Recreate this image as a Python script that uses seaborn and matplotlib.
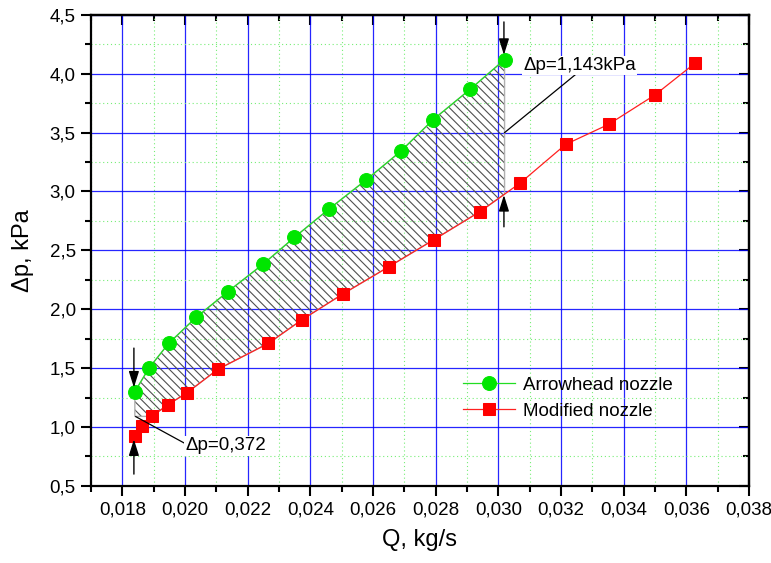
import numpy as np
import matplotlib
matplotlib.use('Agg')
import matplotlib.pyplot as plt
from matplotlib.ticker import MultipleLocator, FuncFormatter
import seaborn as sns

# data
arrow_q = [0.01840, 0.01885, 0.01948, 0.02035, 0.02137, 0.02248, 0.02349,
           0.02459, 0.02579, 0.02688, 0.02792, 0.02911, 0.03020]
arrow_p = [1.30, 1.50, 1.71, 1.93, 2.15, 2.38, 2.61, 2.85, 3.10, 3.34,
           3.61, 3.87, 4.12]
mod_q = [0.01840, 0.01862, 0.01894, 0.01946, 0.02006, 0.02105, 0.02266,
         0.02373, 0.02504, 0.02650, 0.02794, 0.02942, 0.03069, 0.03215,
         0.03352, 0.03500, 0.03628]
mod_p = [0.92, 1.01, 1.09, 1.19, 1.29, 1.49, 1.71, 1.91, 2.13, 2.36, 2.59,
         2.83, 3.07, 3.40, 3.57, 3.82, 4.09]
labels = ['Arrowhead nozzle', 'Modified nozzle']
dp_low_text = 'Δp=0,372'
dp_high_text = 'Δp=1,143kPa'

plt.rcParams['font.family'] = ['Liberation Sans', 'DejaVu Sans']
plt.rcParams['hatch.linewidth'] = 0.8

fig = plt.figure(figsize=(7.71, 5.63), dpi=100)
ax = fig.add_axes([0.118, 0.137, 0.8534, 0.8366])

# hatched gap between the two curves
q_end = arrow_q[-1]
q_start = arrow_q[0]
low_q = [q for q in mod_q if mod_q[2] <= q <= q_end]
low_p = [p for q, p in zip(mod_q, mod_p) if mod_q[2] <= q <= q_end]
low_q = low_q + [q_end]
low_p = low_p + [float(np.interp(q_end, mod_q, mod_p))]
poly_q = list(arrow_q) + low_q[::-1] + [q_start]
poly_p = list(arrow_p) + low_p[::-1] + [mod_p[2]]
ax.fill(poly_q, poly_p, facecolor='none', edgecolor='#505050', lw=0,
        hatch='\\\\\\\\', zorder=2)
ax.fill(poly_q, poly_p, facecolor='none', edgecolor='#b0b0b0', lw=1.0, zorder=2)

sns.lineplot(x=arrow_q, y=arrow_p, ax=ax, color='#22dd22', lw=0.9,
             marker='o', markersize=10, markerfacecolor='#00e600',
             markeredgecolor='#00e600', label=labels[0], zorder=4)
sns.lineplot(x=mod_q, y=mod_p, ax=ax, color='#ff2020', lw=0.9,
             marker='s', markersize=9, markerfacecolor='#ff0000',
             markeredgecolor='#ff0000', label=labels[1], zorder=4)

# arrows and annotations
aprops = dict(arrowstyle='-|>,head_length=0.7,head_width=0.22', color='black',
              lw=1.0, mutation_scale=14, shrinkA=0, shrinkB=0)
ax.annotate('', xy=(0.03018, 4.16), xytext=(0.03018, 4.44), arrowprops=aprops, zorder=5)
ax.annotate('', xy=(0.03018, 2.97), xytext=(0.03018, 2.70), arrowprops=aprops, zorder=5)
ax.annotate('', xy=(0.01837, 1.335), xytext=(0.01837, 1.67), arrowprops=aprops, zorder=5)
ax.annotate('', xy=(0.01837, 0.895), xytext=(0.01837, 0.60), arrowprops=aprops, zorder=5)

ax.plot([0.03020, 0.03245], [3.50, 3.99], color='black', lw=0.9, zorder=5)
ax.plot([0.01843, 0.02005], [1.088, 0.853], color='black', lw=0.9, zorder=5)
ax.text(0.03079, 4.07, dp_high_text, fontsize=13.5, va='center', ha='left',
        bbox=dict(facecolor='white', edgecolor='none', pad=1), zorder=6)
ax.text(0.02001, 0.839, dp_low_text, fontsize=13.5, va='center', ha='left',
        bbox=dict(facecolor='white', edgecolor='none', pad=1), zorder=6)

# axes
ax.set_xlim(0.017, 0.038)
ax.set_ylim(0.5, 4.5)
ax.xaxis.set_major_locator(MultipleLocator(0.002))
ax.xaxis.set_minor_locator(MultipleLocator(0.001))
ax.yaxis.set_major_locator(MultipleLocator(0.5))
ax.yaxis.set_minor_locator(MultipleLocator(0.25))
ax.xaxis.set_major_formatter(FuncFormatter(lambda v, _: f'{v:.3f}'.replace('.', ',')))
ax.yaxis.set_major_formatter(FuncFormatter(lambda v, _: f'{v:.1f}'.replace('.', ',')))

ax.grid(which='major', color='#0000ff', lw=0.9, alpha=0.85)
ax.grid(which='minor', color='#77ee77', lw=0.8, linestyle=(0, (1, 2.5)))
ax.set_axisbelow(True)

for s in ax.spines.values():
    s.set_linewidth(1.6)
ax.tick_params(which='major', direction='out', length=7, width=1.5,
               labelsize=13.5, pad=4)
ax.tick_params(which='minor', direction='out', length=4, width=1.5)

for side, fn in (('top', ax.secondary_xaxis), ('right', ax.secondary_yaxis)):
    sec = fn(side)
    loc = 0.002 if side == 'top' else 0.5
    sec_axis = sec.xaxis if side == 'top' else sec.yaxis
    sec_axis.set_major_locator(MultipleLocator(loc))
    sec_axis.set_minor_locator(MultipleLocator(loc / 2))
    sec.tick_params(which='major', direction='in', length=7, width=1.5, labelsize=0)
    sec.tick_params(which='minor', direction='in', length=4, width=1.5)
    sec_axis.set_major_formatter(FuncFormatter(lambda v, _: ''))
    sec.spines[side].set_linewidth(1.6)

ax.set_xlabel('Q, kg/s', fontsize=17, labelpad=8)
ax.set_ylabel('Δp, kPa', fontsize=17, labelpad=11)

ax.legend(loc='center left', bbox_to_anchor=(0.565, 0.186), frameon=False,
          fontsize=13.5, handlelength=2.8, handletextpad=0.4,
          borderaxespad=0, borderpad=0, labelspacing=0.45)

fig.savefig('out.png', dpi=100)
